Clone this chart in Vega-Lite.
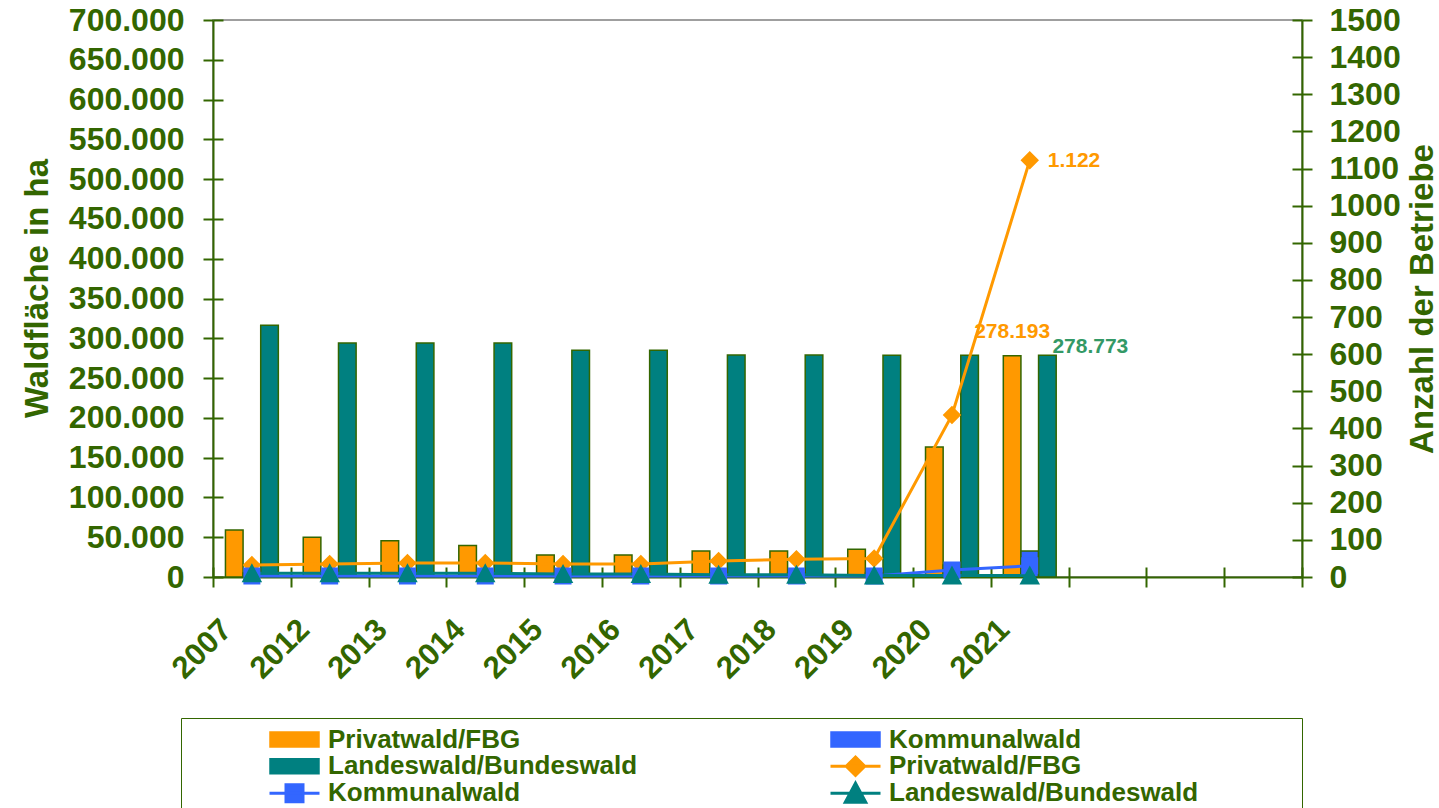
{
  "$schema": "https://vega.github.io/schema/vega-lite/v6.json",
  "width": 1089,
  "height": 557,
  "autosize": {"type": "none"},
  "padding": {"left": 213, "top": 20, "right": 137, "bottom": 231},
  "background": "white",
  "config": {
    "locale": {"number": {"decimal": ",", "thousands": ".", "grouping": [3], "currency": ["", " €"]}},
    "view": {"stroke": "#808080", "strokeWidth": 1.5},
    "font": "Liberation Sans",
    "axis": {
      "labelFont": "Liberation Sans", "labelFontWeight": "bold", "labelColor": "#336600",
      "tickColor": "#336600", "domainColor": "#336600", "domainWidth": 2, "tickWidth": 2,
      "titleColor": "#336600", "titleFontWeight": "bold", "titleFont": "Liberation Sans",
      "grid": false, "labelOverlap": false
    }
  },
  "datasets": {
    "bars": [
      {"year": "2007", "s": "1|Privatwald/FBG", "ha": 59000},
      {"year": "2012", "s": "1|Privatwald/FBG", "ha": 50000},
      {"year": "2013", "s": "1|Privatwald/FBG", "ha": 45500},
      {"year": "2014", "s": "1|Privatwald/FBG", "ha": 39500},
      {"year": "2015", "s": "1|Privatwald/FBG", "ha": 27700},
      {"year": "2016", "s": "1|Privatwald/FBG", "ha": 27700},
      {"year": "2017", "s": "1|Privatwald/FBG", "ha": 32700},
      {"year": "2018", "s": "1|Privatwald/FBG", "ha": 32700},
      {"year": "2019", "s": "1|Privatwald/FBG", "ha": 34800},
      {"year": "2020", "s": "1|Privatwald/FBG", "ha": 163300},
      {"year": "2021", "s": "1|Privatwald/FBG", "ha": 278193},
      {"year": "2007", "s": "2|Kommunalwald", "ha": 5000},
      {"year": "2012", "s": "2|Kommunalwald", "ha": 5000},
      {"year": "2013", "s": "2|Kommunalwald", "ha": 5000},
      {"year": "2014", "s": "2|Kommunalwald", "ha": 5000},
      {"year": "2015", "s": "2|Kommunalwald", "ha": 5000},
      {"year": "2016", "s": "2|Kommunalwald", "ha": 5000},
      {"year": "2017", "s": "2|Kommunalwald", "ha": 5000},
      {"year": "2018", "s": "2|Kommunalwald", "ha": 5000},
      {"year": "2019", "s": "2|Kommunalwald", "ha": 5000},
      {"year": "2020", "s": "2|Kommunalwald", "ha": 15000},
      {"year": "2021", "s": "2|Kommunalwald", "ha": 32700},
      {"year": "2007", "s": "3|Landeswald/Bundeswald", "ha": 316500},
      {"year": "2012", "s": "3|Landeswald/Bundeswald", "ha": 294000},
      {"year": "2013", "s": "3|Landeswald/Bundeswald", "ha": 294000},
      {"year": "2014", "s": "3|Landeswald/Bundeswald", "ha": 294000},
      {"year": "2015", "s": "3|Landeswald/Bundeswald", "ha": 285000},
      {"year": "2016", "s": "3|Landeswald/Bundeswald", "ha": 285000},
      {"year": "2017", "s": "3|Landeswald/Bundeswald", "ha": 279000},
      {"year": "2018", "s": "3|Landeswald/Bundeswald", "ha": 279000},
      {"year": "2019", "s": "3|Landeswald/Bundeswald", "ha": 278800},
      {"year": "2020", "s": "3|Landeswald/Bundeswald", "ha": 278800},
      {"year": "2021", "s": "3|Landeswald/Bundeswald", "ha": 278773}
    ],
    "lines": [
      {"year": "2007", "s": "4|Privatwald/FBG", "n": 32},
      {"year": "2012", "s": "4|Privatwald/FBG", "n": 35},
      {"year": "2013", "s": "4|Privatwald/FBG", "n": 38},
      {"year": "2014", "s": "4|Privatwald/FBG", "n": 38},
      {"year": "2015", "s": "4|Privatwald/FBG", "n": 35},
      {"year": "2016", "s": "4|Privatwald/FBG", "n": 35},
      {"year": "2017", "s": "4|Privatwald/FBG", "n": 43},
      {"year": "2018", "s": "4|Privatwald/FBG", "n": 48},
      {"year": "2019", "s": "4|Privatwald/FBG", "n": 50},
      {"year": "2020", "s": "4|Privatwald/FBG", "n": 436},
      {"year": "2021", "s": "4|Privatwald/FBG", "n": 1122},
      {"year": "2007", "s": "5|Kommunalwald", "n": 3},
      {"year": "2012", "s": "5|Kommunalwald", "n": 3},
      {"year": "2013", "s": "5|Kommunalwald", "n": 3},
      {"year": "2014", "s": "5|Kommunalwald", "n": 3},
      {"year": "2015", "s": "5|Kommunalwald", "n": 3},
      {"year": "2016", "s": "5|Kommunalwald", "n": 3},
      {"year": "2017", "s": "5|Kommunalwald", "n": 3},
      {"year": "2018", "s": "5|Kommunalwald", "n": 3},
      {"year": "2019", "s": "5|Kommunalwald", "n": 3},
      {"year": "2020", "s": "5|Kommunalwald", "n": 19},
      {"year": "2021", "s": "5|Kommunalwald", "n": 30},
      {"year": "2007", "s": "6|Landeswald/Bundeswald", "n": 10},
      {"year": "2012", "s": "6|Landeswald/Bundeswald", "n": 10},
      {"year": "2013", "s": "6|Landeswald/Bundeswald", "n": 10},
      {"year": "2014", "s": "6|Landeswald/Bundeswald", "n": 10},
      {"year": "2015", "s": "6|Landeswald/Bundeswald", "n": 8},
      {"year": "2016", "s": "6|Landeswald/Bundeswald", "n": 8},
      {"year": "2017", "s": "6|Landeswald/Bundeswald", "n": 6},
      {"year": "2018", "s": "6|Landeswald/Bundeswald", "n": 6},
      {"year": "2019", "s": "6|Landeswald/Bundeswald", "n": 4},
      {"year": "2020", "s": "6|Landeswald/Bundeswald", "n": 4},
      {"year": "2021", "s": "6|Landeswald/Bundeswald", "n": 4}
    ]
  },
  "layer": [
    {
      "data": {"name": "bars"},
      "mark": {"type": "bar", "stroke": "#336600", "strokeWidth": 1.5},
      "encoding": {
        "x": {
          "field": "year", "type": "nominal",
          "scale": {"domain": ["2007", "2012", "2013", "2014", "2015", "2016", "2017", "2018", "2019", "2020", "2021", " ", "  ", "   "], "paddingInner": 0, "paddingOuter": 0},
          "axis": {
            "orient": "bottom", "tickBand": "extent", "tickSize": 10, "labelAngle": -45,
            "labelAlign": "right", "labelBaseline": "top", "labelOffset": -36, "labelPadding": 27,
            "labelFontSize": 31, "title": null, "labelBound": false, "labelFlush": false
          }
        },
        "xOffset": {
          "field": "s", "type": "nominal",
          "scale": {"domain": ["1|Privatwald/FBG", "2|Kommunalwald", "3|Landeswald/Bundeswald"], "paddingInner": 0, "paddingOuter": 0.706}
        },
        "y": {
          "field": "ha", "type": "quantitative",
          "scale": {"domain": [0, 700000], "nice": false},
          "axis": {
            "orient": "left", "values": [0, 50000, 100000, 150000, 200000, 250000, 300000, 350000, 400000, 450000, 500000, 550000, 600000, 650000, 700000],
            "format": ",d", "tickSize": 10, "labelPadding": 19, "labelFontSize": 32,
            "title": "Waldfläche in ha", "titleFontSize": 33, "titlePadding": 14, "titleY": 268
          }
        },
        "color": {
          "field": "s", "type": "nominal",
          "scale": {
            "domain": ["1|Privatwald/FBG", "2|Kommunalwald", "3|Landeswald/Bundeswald", "4|Privatwald/FBG", "5|Kommunalwald", "6|Landeswald/Bundeswald"],
            "range": ["#FF9900", "#3366FF", "#008080", "#FF9900", "#3366FF", "#008080"]
          },
          "legend": {
            "orient": "none", "legendX": -32, "legendY": 698, "direction": "horizontal",
            "columns": 2, "columnPadding": 191, "rowPadding": 0, "clipHeight": 26.5,
            "symbolSize": 2500, "symbolStrokeWidth": 3, "symbolOpacity": 1,
            "labelOffset": 7, "labelFont": "Liberation Sans", "labelFontSize": 26,
            "labelFontWeight": "bold", "labelColor": "#336600", "labelLimit": 1000,
            "padding": 8, "strokeColor": "#336600",
            "title": ".", "titleOrient": "left", "titlePadding": 76, "titleOpacity": 0, "titleFontSize": 10,
            "labelExpr": "slice(datum.label, 2) + (indexof('246', slice(datum.label, 0, 1)) >= 0 ? '\u2800\u2800\u2800\u2800\u2800' : '')"
          }
        }
      }
    },
    {
      "data": {"name": "lines"},
      "encoding": {
        "x": {
          "field": "year", "type": "nominal",
          "scale": {"domain": ["2007", "2012", "2013", "2014", "2015", "2016", "2017", "2018", "2019", "2020", "2021", " ", "  ", "   "], "paddingInner": 0, "paddingOuter": 0},
          "axis": null
        },
        "y": {
          "field": "n", "type": "quantitative",
          "scale": {"domain": [0, 1500], "nice": false},
          "axis": {
            "orient": "right", "values": [0, 100, 200, 300, 400, 500, 600, 700, 800, 900, 1000, 1100, 1200, 1300, 1400, 1500],
            "format": "d", "tickSize": 10, "labelPadding": 17, "labelFontSize": 32,
            "title": "Anzahl der Betriebe", "titleFontSize": 33, "titleAngle": 270, "titleBaseline": "top", "titlePadding": 6
          }
        },
        "color": {"field": "s", "type": "nominal"}
      },
      "layer": [
        {"mark": {"type": "line", "strokeWidth": 3}},
        {
          "mark": {"type": "point", "filled": true, "opacity": 1, "size": 2500},
          "encoding": {
            "shape": {
              "field": "s", "type": "nominal",
              "scale": {
                "domain": ["1|Privatwald/FBG", "2|Kommunalwald", "3|Landeswald/Bundeswald", "4|Privatwald/FBG", "5|Kommunalwald", "6|Landeswald/Bundeswald"],
                "range": ["M-0.95,-0.27H0.95V0.27H-0.95Z", "M-0.95,-0.27H0.95V0.27H-0.95Z", "M-0.95,-0.27H0.95V0.27H-0.95Z", "M-1,0H1M0,-0.37L0.37,0L0,0.37L-0.37,0Z", "M-1,0H1M-0.34,-0.34H0.34V0.34H-0.34Z", "M-1,0H1M0,-0.4L0.41,0.36H-0.41Z"]
              }
            }
          }
        }
      ]
    },
    {
      "encoding": {
        "x": {
          "field": "year", "type": "nominal",
          "scale": {"domain": ["2007", "2012", "2013", "2014", "2015", "2016", "2017", "2018", "2019", "2020", "2021", " ", "  ", "   "], "paddingInner": 0, "paddingOuter": 0},
          "axis": {"orient": "bottom", "tickBand": "extent", "tickSize": -10, "labels": false, "domain": false, "title": null}
        },
        "xOffset": {"field": "s", "type": "nominal"},
        "y": {
          "field": "ha", "type": "quantitative",
          "scale": {"domain": [0, 700000], "nice": false},
          "axis": {
            "orient": "left", "values": [0, 50000, 100000, 150000, 200000, 250000, 300000, 350000, 400000, 450000, 500000, 550000, 600000, 650000, 700000],
            "tickSize": -10, "labels": false, "domain": false, "title": null
          }
        },
        "text": {"field": "ha", "type": "quantitative", "format": ",d"}
      },
      "layer": [
        {
          "data": {"values": [{"year": "2021", "s": "1|Privatwald/FBG", "ha": 278193}]},
          "mark": {"type": "text", "font": "Liberation Sans", "fontWeight": "bold", "fontSize": 21, "color": "#FF9900", "align": "center", "baseline": "alphabetic", "dy": -18}
        },
        {
          "data": {"values": [{"year": "2021", "s": "3|Landeswald/Bundeswald", "ha": 278773}]},
          "mark": {"type": "text", "font": "Liberation Sans", "fontWeight": "bold", "fontSize": 21, "color": "#339966", "align": "left", "baseline": "alphabetic", "dx": 5, "dy": -2.5}
        }
      ]
    },
    {
      "data": {"values": [{"year": "2021", "n": 1122}]},
      "mark": {"type": "text", "font": "Liberation Sans", "fontWeight": "bold", "fontSize": 21, "color": "#FF9900", "align": "left", "baseline": "alphabetic", "dx": 18, "dy": 7},
      "encoding": {
        "x": {
          "field": "year", "type": "nominal",
          "scale": {"domain": ["2007", "2012", "2013", "2014", "2015", "2016", "2017", "2018", "2019", "2020", "2021", " ", "  ", "   "], "paddingInner": 0, "paddingOuter": 0},
          "axis": null
        },
        "y": {
          "field": "n", "type": "quantitative",
          "scale": {"domain": [0, 1500], "nice": false},
          "axis": {
            "orient": "right", "values": [0, 100, 200, 300, 400, 500, 600, 700, 800, 900, 1000, 1100, 1200, 1300, 1400, 1500],
            "tickSize": -10, "labels": false, "domain": false, "title": null
          }
        },
        "text": {"field": "n", "type": "quantitative", "format": ",d"}
      }
    }
  ],
  "resolve": {"scale": {"y": "independent"}, "axis": {"x": "independent"}}
}
